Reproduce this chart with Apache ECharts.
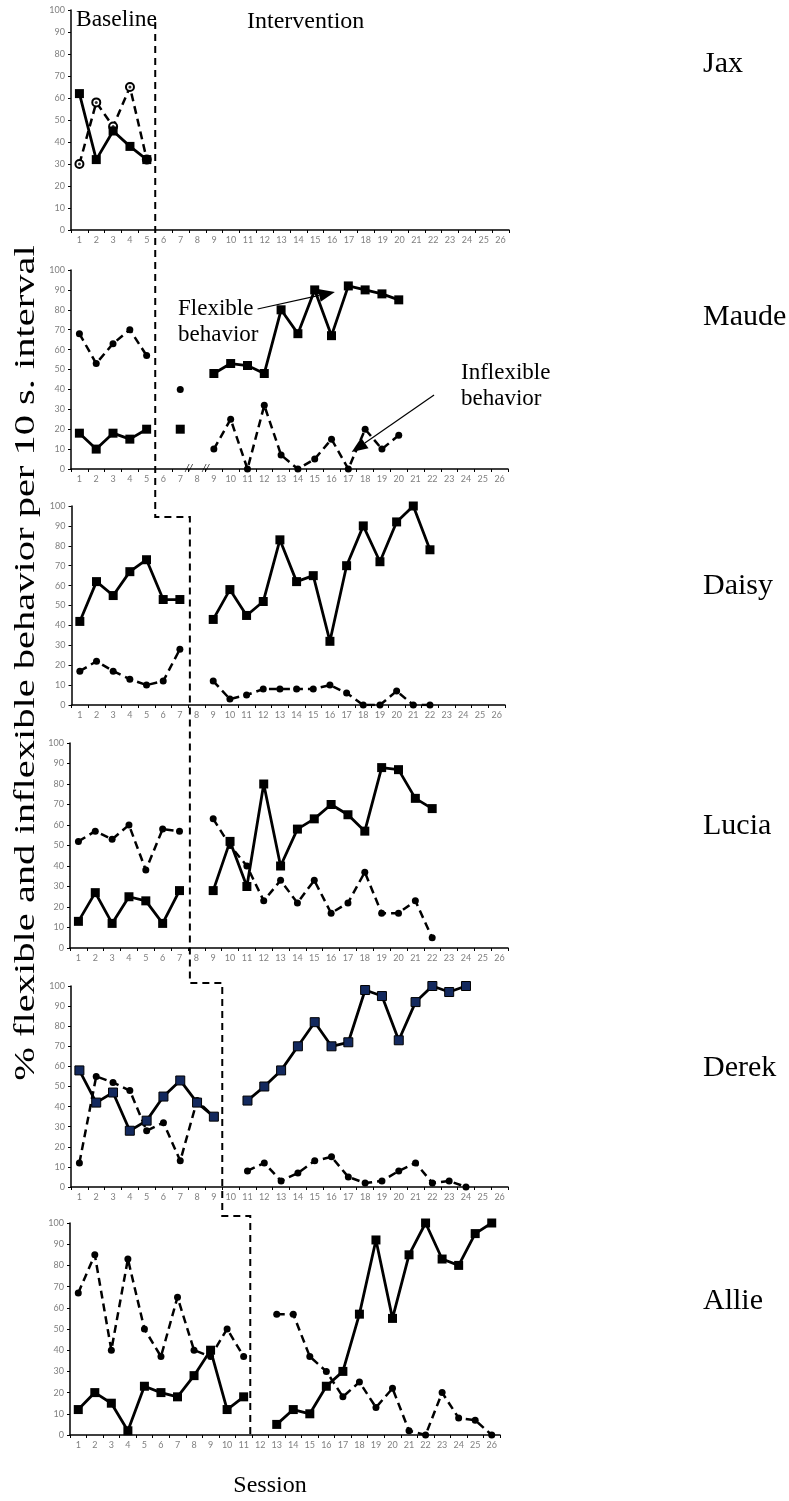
<!DOCTYPE html>
<html><head><meta charset="utf-8">
<script src="https://cdn.jsdelivr.net/npm/echarts@6/dist/echarts.min.js"></script>
<style>html,body{margin:0;padding:0;background:#fff}#c{width:789px;height:1501px}</style>
</head><body><div id="c"></div>
<script>
const sessions = ['1','2','3','4','5','6','7','8','9','10','11','12','13','14','15','16','17','18','19','20','21','22','23','24','25','26'];
const participants = ['Jax','Maude','Daisy','Lucia','Derek','Allie'];
const jaxFlexible   = [62,32,45,38,32];
const jaxInflexible = [30,58,47,65,32];
const maudeFlexible   = [18,10,18,15,20,null,20,null,48,53,52,48,80,68,90,67,92,90,88,85];
const maudeInflexible = [68,53,63,70,57,null,40,null,10,25,0,32,7,0,5,15,0,20,10,17];
const daisyFlexible   = [42,62,55,67,73,53,53,null,43,58,45,52,83,62,65,32,70,90,72,92,100,78];
const daisyInflexible = [17,22,17,13,10,12,28,null,12,3,5,8,8,8,8,10,6,0,0,7,0,0];
const luciaFlexible   = [13,27,12,25,23,12,28,null,28,52,30,80,40,58,63,70,65,57,88,87,73,68];
const luciaInflexible = [52,57,53,60,38,58,57,null,63,50,40,23,33,22,33,17,22,37,17,17,23,5];
const derekFlexible   = [58,42,47,28,33,45,53,42,35,null,43,50,58,70,82,70,72,98,95,73,92,100,97,100];
const derekInflexible = [12,55,52,48,28,32,13,43,35,null,8,12,3,7,13,15,5,2,3,8,12,2,3,0];
const allieFlexible   = [12,20,15,2,23,20,18,28,40,12,18,null,5,12,10,23,30,57,92,55,85,100,83,80,95,100];
const allieInflexible = [67,85,40,83,50,37,65,40,37,50,37,null,57,57,37,30,18,25,13,22,2,0,20,8,7,0];

const flexData = [jaxFlexible, maudeFlexible, daisyFlexible, luciaFlexible, derekFlexible, allieFlexible];
const inflexData = [jaxInflexible, maudeInflexible, daisyInflexible, luciaInflexible, derekInflexible, allieInflexible];

const panels = [
  {left:71, right:789-509, top:10,   height:220},
  {left:71, right:789-508, top:270,  height:199},
  {left:71.5, right:789-505, top:506, height:199},
  {left:70, right:789-508, top:743,  height:205},
  {left:71, right:789-508, top:986,  height:201},
  {left:70, right:789-500, top:1223, height:212}
];
const SERIF = '"Liberation Serif","Times New Roman",serif';
const AXFONT = 'Lato, "Open Sans", sans-serif';

const chart = echarts.init(document.getElementById('c'), null, {renderer:'canvas'});
const grid = [], xAxis = [], yAxis = [], series = [];
panels.forEach((p, i) => {
  grid.push({left:p.left, right:p.right, top:p.top, height:p.height, containLabel:false});
  xAxis.push({type:'category', gridIndex:i, data:sessions, boundaryGap:true,
    axisLine:{lineStyle:{color:'#000', width:1.5}},
    axisTick:{show:true, length:3, lineStyle:{color:'#000'}},
    axisLabel:{interval:0, color:'#808080', fontSize:9, fontFamily:AXFONT, margin:6},
    splitLine:{show:false}});
  yAxis.push({type:'value', gridIndex:i, min:0, max:100, interval:10,
    axisLine:{show:true, lineStyle:{color:'#000', width:1.5}},
    axisTick:{show:true, length:3, lineStyle:{color:'#000'}},
    axisLabel:{color:'#808080', fontSize:9, fontFamily:AXFONT, margin:6},
    splitLine:{show:false}});
  const navy = i === 4;
  series.push({type:'line', xAxisIndex:i, yAxisIndex:i, data:inflexData[i],
    connectNulls:false, showAllSymbol:true,
    symbol: i === 0 ? 'emptyCircle' : 'circle', symbolSize: i === 0 ? 8 : 7,
    lineStyle:{color:'#000', width:2.5, type:[8,5]},
    itemStyle:{color:'#000', borderColor:'#000', borderWidth: i === 0 ? 1.3 : 0},
    z:3, animation:false});
  if (i === 0) {
    series.push({type:'scatter', xAxisIndex:i, yAxisIndex:i, data:inflexData[i],
      symbol:'circle', symbolSize:3, itemStyle:{color:'#000'}, z:5, animation:false});
  }
  series.push({type:'line', xAxisIndex:i, yAxisIndex:i, data:flexData[i],
    connectNulls:false, showAllSymbol:true, symbol:'rect', symbolSize:9,
    lineStyle:{color:'#000', width:2.8},
    itemStyle:{color: navy ? '#13295e' : '#000', borderColor:'#000', borderWidth: navy ? 1 : 0},
    z:4, animation:false});
});

chart.setOption({animation:false, backgroundColor:'#fff', grid, xAxis, yAxis, series});

// helpers mapping session/percent to pixels through the axes
function cx(g, c) {
  const p1 = chart.convertToPixel({xAxisIndex:g}, 0);
  const p2 = chart.convertToPixel({xAxisIndex:g}, 1);
  return p1 + (c - 1) * (p2 - p1);
}
function py(g, v) { return chart.convertToPixel({yAxisIndex:g}, v); }

// phase change line (staircase)
const xa = cx(0, 5.5), xb = cx(2, 7.6), xc = cx(4, 9.5), xd = cx(5, 11.4);
const pts = [
  [xa, py(0, 94.5)], [xa, py(2, 94.5)], [xb, py(2, 94.5)], [xb, py(4, 101.5)],
  [xc, py(4, 101.5)], [xc, py(5, 103.3)], [xd, py(5, 103.3)], [xd, py(5, 0)]
];
const graphic = [];
graphic.push({type:'polyline', shape:{points:pts}, style:{stroke:'#000', lineWidth:2, lineDash:[7,5], fill:null}, z:10});

function arrow(g, c0, v0, c1, v1) {
  const S = [cx(g, c0), py(g, v0)], T = [cx(g, c1), py(g, v1)];
  const dx = T[0]-S[0], dy = T[1]-S[1], L = Math.hypot(dx, dy);
  const ux = dx/L, uy = dy/L, hl = 16, hw = 6.5;
  const B = [T[0]-ux*hl, T[1]-uy*hl];
  graphic.push({type:'line', shape:{x1:S[0], y1:S[1], x2:B[0], y2:B[1]}, style:{stroke:'#000', lineWidth:1.2}, z:10});
  graphic.push({type:'polygon', shape:{points:[T, [B[0]-uy*hw, B[1]+ux*hw], [B[0]+uy*hw, B[1]-ux*hw]]}, style:{fill:'#000'}, z:10});
}
arrow(1, 11.6, 80.4, 16.2, 89);
arrow(1, 22.1, 37.2, 17.2, 8.5);

function txt(x, y, text, size, align, extra) {
  graphic.push(Object.assign({type:'text', x:x, y:y, z:11,
    style:{text:text, font: size + 'px ' + SERIF, fill:'#000', textAlign:align || 'left', textVerticalAlign:'middle'}}, extra || {}));
}
txt(76, 20, 'Baseline', 23.5);
txt(247, 22, 'Intervention', 24);
txt(178, 309, 'Flexible', 23);
txt(178, 335, 'behavior', 23);
txt(461, 373, 'Inflexible', 23);
txt(461, 399, 'behavior', 23);
const nameY = [64.5, 317.5, 586, 826, 1068, 1301];
participants.forEach((n, i) => txt(703, nameY[i], n, 30));
txt(270, 1486, 'Session', 24, 'center');
txt(26, 663, '% flexible and inflexible behavior per 10 s. interval', 30, 'center', {rotation:Math.PI/2, scaleX:1.35});
// axis break marks on Maude's panel
[7.5, 8.5].forEach(c => txt(cx(1, c), py(1, 0), '//', 12, 'center', {style:{text:'//', font:'italic 12px ' + SERIF, fill:'#000', textAlign:'center', textVerticalAlign:'middle'}}));

chart.setOption({graphic});
</script></body></html>
